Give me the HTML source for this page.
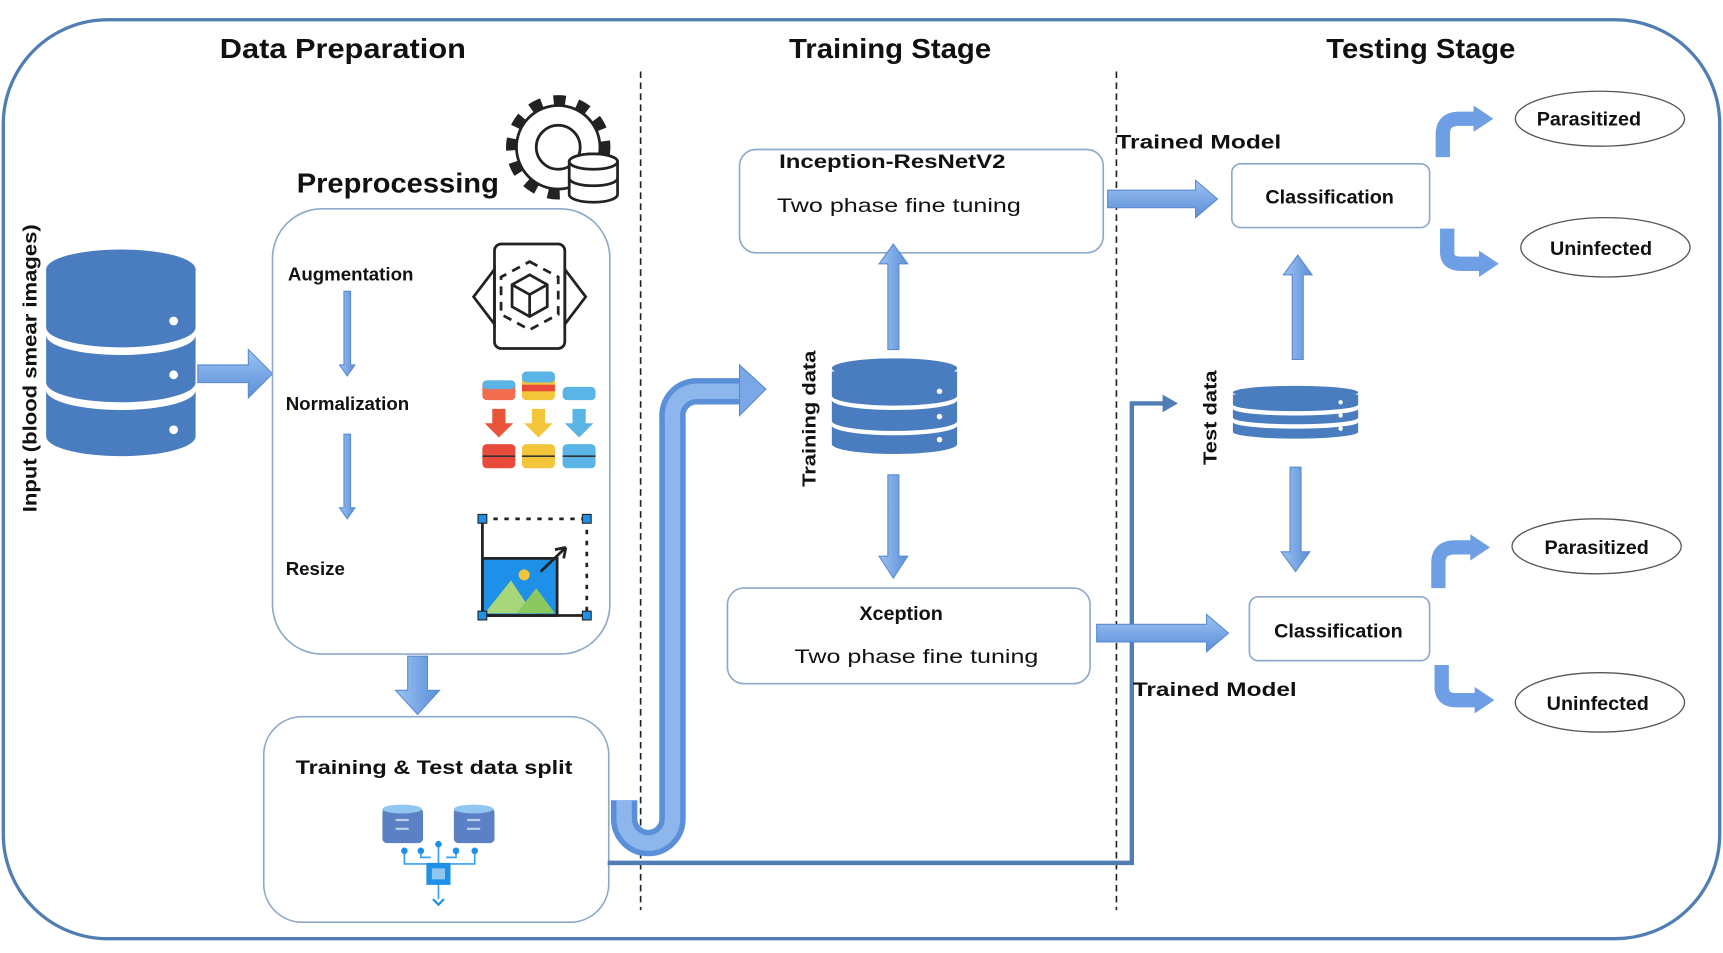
<!DOCTYPE html>
<html><head><meta charset="utf-8"><style>
html,body{margin:0;padding:0;background:#fff;}
svg{display:block;}
text{font-family:"Liberation Sans",sans-serif;fill:#111;}
.b{font-weight:bold;}
</style></head><body>
<svg width="1723" height="953" viewBox="0 0 1568 867" preserveAspectRatio="none" xmlns="http://www.w3.org/2000/svg">
<defs>
<linearGradient id="ah" x1="0" y1="0" x2="0" y2="1"><stop offset="0" stop-color="#9cc2f2"/><stop offset="1" stop-color="#5b8fd8"/></linearGradient>
<linearGradient id="av" x1="0" y1="0" x2="1" y2="0"><stop offset="0" stop-color="#9cc2f2"/><stop offset="1" stop-color="#5b8fd8"/></linearGradient>
</defs>
<rect x="3" y="18" width="1562" height="836" rx="95" fill="#fff" stroke="#4f7db4" stroke-width="3"/>
<text x="312" y="53" class="b" font-size="25" text-anchor="middle" textLength="224" lengthAdjust="spacingAndGlyphs">Data Preparation</text>
<text x="810" y="53" class="b" font-size="25" text-anchor="middle" textLength="184" lengthAdjust="spacingAndGlyphs">Training Stage</text>
<text x="1293" y="53" class="b" font-size="25" text-anchor="middle" textLength="172" lengthAdjust="spacingAndGlyphs">Testing Stage</text>
<line x1="583" y1="65" x2="583" y2="828" stroke="#222" stroke-width="1.5" stroke-dasharray="6,4"/>
<line x1="1016" y1="65" x2="1016" y2="828" stroke="#222" stroke-width="1.5" stroke-dasharray="6,4"/>

<!-- input DB -->
<g fill="#4a7cc0">
<ellipse cx="110" cy="245" rx="68" ry="18"/>
<path d="M42 245 V298 A68 18 0 0 0 178 298 V245 Z"/>
<path d="M42 305 V348 A68 18 0 0 0 178 348 V305 A68 18 0 0 1 42 305Z"/>
<path d="M42 355 V397 A68 18 0 0 0 178 397 V355 A68 18 0 0 1 42 355Z"/>
</g>
<g fill="#fff"><circle cx="158" cy="292" r="4"/><circle cx="158" cy="341" r="4"/><circle cx="158" cy="391" r="4"/></g>
<text transform="translate(33,335) rotate(-90)" class="b" font-size="18" text-anchor="middle" textLength="262" lengthAdjust="spacingAndGlyphs">Input (blood smear images)</text>
<polygon points="180,332 226,332 226,318 248,340 226,362 226,348 180,348" fill="url(#ah)" stroke="#5a8ad0"/>

<!-- preprocessing -->
<text x="270" y="175" class="b" font-size="25" textLength="184" lengthAdjust="spacingAndGlyphs">Preprocessing</text>
<g fill="none" stroke="#222">
<circle cx="508" cy="134" r="38" stroke-width="2.5"/>
<circle cx="508" cy="134" r="43" stroke-width="9" stroke-dasharray="11,11"/>
<circle cx="508" cy="134" r="20" stroke-width="2.5"/>
</g>
<g fill="none" stroke="#222" stroke-width="2.5">
<ellipse cx="540" cy="147" rx="22" ry="7" fill="#fff"/>
<path d="M518 147 V177 A22 7 0 0 0 562 177 V147" fill="#fff"/>
<ellipse cx="540" cy="147" rx="22" ry="7" fill="#fff"/>
<path d="M518 162 A22 7 0 0 0 562 162"/>
</g>
<rect x="248" y="190" width="307" height="405" rx="45" fill="none" stroke="#8fa9c9" stroke-width="1.5"/>
<text x="262" y="255" class="b" font-size="17">Augmentation</text>
<text x="260" y="373" class="b" font-size="17">Normalization</text>
<text x="260" y="523" class="b" font-size="17">Resize</text>
<polygon points="313,265 319,265 319,332 323,332 316,342 309,332 313,332" fill="url(#av)" stroke="#5a8ad0"/>
<polygon points="313,395 319,395 319,462 323,462 316,472 309,462 313,462" fill="url(#av)" stroke="#5a8ad0"/>
<!-- phone icon -->
<g fill="none" stroke="#222" stroke-width="2.5">
<rect x="450" y="222" width="64" height="95" rx="6"/>
<polygon points="450,245 431,270 450,295"/><polygon points="514,245 533,270 514,295"/>
<path d="M482 250 L498 259 L498 279 L482 288 L466 279 L466 259 Z M466 259 L482 268 L498 259 M482 268 V288"/>
<path d="M482 238 L508 252 L508 286 L482 300 L456 286 L456 252 Z" stroke-dasharray="8,6"/>
</g>
<!-- normalization icon -->
<g>
<rect x="439" y="346" width="30" height="18" rx="4" fill="#f26d50"/><rect x="439" y="346" width="30" height="8" rx="4" fill="#5ab5e6"/>
<rect x="475" y="338" width="30" height="26" rx="4" fill="#f3c53a"/><rect x="475" y="338" width="30" height="10" rx="4" fill="#5ab5e6"/><rect x="475" y="350" width="30" height="6" fill="#e84b3c"/>
<rect x="512" y="352" width="30" height="12" rx="4" fill="#5ab5e6"/>
<polygon points="448,372 460,372 460,385 467,385 454,398 441,385 448,385" fill="#e8553a"/>
<polygon points="484,372 496,372 496,385 503,385 490,398 477,385 484,385" fill="#f3c53a"/>
<polygon points="521,372 533,372 533,385 540,385 527,398 514,385 521,385" fill="#5ab5e6"/>
<rect x="439" y="404" width="30" height="22" rx="4" fill="#e84b3c"/><rect x="475" y="404" width="30" height="22" rx="4" fill="#f3c53a"/><rect x="512" y="404" width="30" height="22" rx="4" fill="#5ab5e6"/>
<g stroke="#333" stroke-width="1.5"><line x1="439" y1="415" x2="469" y2="415"/><line x1="475" y1="415" x2="505" y2="415"/><line x1="512" y1="415" x2="542" y2="415"/></g>
</g>
<!-- resize icon -->
<g>
<line x1="439" y1="472" x2="534" y2="472" stroke="#222" stroke-width="2.5" stroke-dasharray="4,6"/>
<line x1="534" y1="472" x2="534" y2="560" stroke="#222" stroke-width="2.5" stroke-dasharray="4,6"/>
<rect x="439" y="508" width="68" height="52" fill="#1e90e8" stroke="#222" stroke-width="2.5"/>
<polygon points="441,558 465,528 485,558" fill="#a8d67a"/><polygon points="470,558 488,535 505,558" fill="#8cc860"/>
<circle cx="477" cy="523" r="5" fill="#f3c53a"/>
<path d="M492 520 L515 498 M515 498 L505 500 M515 498 L513 508" stroke="#222" stroke-width="2.5" fill="none"/>
<line x1="439" y1="472" x2="439" y2="560" stroke="#222" stroke-width="2.5"/>
<line x1="439" y1="560" x2="534" y2="560" stroke="#222" stroke-width="2.5"/>
<g fill="#1e90e8" stroke="#222"><rect x="435" y="468" width="8" height="8"/><rect x="530" y="468" width="8" height="8"/><rect x="435" y="556" width="8" height="8"/><rect x="530" y="556" width="8" height="8"/></g>
</g>
<polygon points="371,597 389,597 389,628 400,628 380,650 360,628 371,628" fill="url(#av)" stroke="#5a8ad0"/>

<!-- split box -->
<rect x="240" y="652" width="314" height="187" rx="35" fill="#fff" stroke="#8fa9c9" stroke-width="1.5"/>
<text x="395" y="704" class="b" font-size="18" text-anchor="middle" textLength="252" lengthAdjust="spacingAndGlyphs">Training &amp; Test data split</text>
<g>
<rect x="348" y="735" width="37" height="32" rx="4" fill="#5c80c4"/><ellipse cx="366" cy="736" rx="18" ry="4" fill="#8fc7f0"/>
<rect x="413" y="735" width="37" height="32" rx="4" fill="#5c80c4"/><ellipse cx="431" cy="736" rx="18" ry="4" fill="#8fc7f0"/>
<g stroke="#bcd0ee" stroke-width="2"><line x1="360" y1="746" x2="372" y2="746"/><line x1="360" y1="754" x2="372" y2="754"/><line x1="425" y1="746" x2="437" y2="746"/><line x1="425" y1="754" x2="437" y2="754"/></g>
<g stroke="#3aa0ee" stroke-width="1.5" fill="none"><path d="M368 774 V786 H390 M383 774 V780 H392 M415 774 V780 H406 M432 774 V786 H408 M399 768 V786 M399 804 V818"/></g>
<g fill="#1e90e8"><circle cx="368" cy="774" r="3"/><circle cx="383" cy="774" r="3"/><circle cx="415" cy="774" r="3"/><circle cx="432" cy="774" r="3"/><circle cx="399" cy="768" r="3"/></g>
<rect x="388" y="785" width="22" height="20" fill="#1e90e8"/><rect x="393" y="790" width="12" height="10" fill="#8fc7f0"/>
<path d="M394 818 L399 823 L404 818" stroke="#1e90e8" stroke-width="2" fill="none"/>
</g>

<!-- J pipe -->
<path d="M568 728 L568 745 A22 22 0 0 0 612 745 L612 380 A22 22 0 0 1 634 356 L675 356" fill="none" stroke="#5b8fd8" stroke-width="24"/>
<path d="M568 728 L568 745 A22 22 0 0 0 612 745 L612 380 A22 22 0 0 1 634 356 L675 356" fill="none" stroke="#8cb6ec" stroke-width="14"/>
<polygon points="673,332 697,354 673,378" fill="#7aa7e6" stroke="#5a8ad0"/>
<!-- test line -->
<polyline points="553,785 1030,785 1030,367 1060,367" fill="none" stroke="#4f7db4" stroke-width="4"/>
<polygon points="1058,359 1072,367 1058,375" fill="#4f7db4"/>

<!-- inception -->
<rect x="673" y="136" width="331" height="94" rx="15" fill="#fff" stroke="#8fa9c9" stroke-width="1.5"/>
<text x="709" y="153" class="b" font-size="18" textLength="206" lengthAdjust="spacingAndGlyphs">Inception-ResNetV2</text>
<text x="707" y="193" font-size="18" textLength="222" lengthAdjust="spacingAndGlyphs">Two phase fine tuning</text>
<!-- xception -->
<rect x="662" y="535" width="330" height="87" rx="15" fill="#fff" stroke="#8fa9c9" stroke-width="1.5"/>
<text x="820" y="564" class="b" font-size="18" text-anchor="middle">Xception</text>
<text x="834" y="603" font-size="18" text-anchor="middle" textLength="222" lengthAdjust="spacingAndGlyphs">Two phase fine tuning</text>

<!-- training DB -->
<g fill="#4a7cc0">
<ellipse cx="814" cy="335" rx="57" ry="9"/>
<path d="M757 338 V360 A57 9 0 0 0 871 360 V338 Z"/>
<path d="M757 364 V383 A57 9 0 0 0 871 383 V364 A57 9 0 0 1 757 364Z"/>
<path d="M757 387 V404 A57 9 0 0 0 871 404 V387 A57 9 0 0 1 757 387Z"/>
</g>
<g fill="#fff"><circle cx="855" cy="356" r="2.5"/><circle cx="855" cy="379" r="2.5"/><circle cx="855" cy="400" r="2.5"/></g>
<text transform="translate(742,381) rotate(-90)" class="b" font-size="17" text-anchor="middle" textLength="124" lengthAdjust="spacingAndGlyphs">Training data</text>
<polygon points="808,318 818,318 818,240 826,240 813,222 800,240 808,240" fill="url(#av)" stroke="#5a8ad0"/>
<polygon points="808,432 818,432 818,506 826,506 813,526 800,506 808,506" fill="url(#av)" stroke="#5a8ad0"/>
<polygon points="1008,173 1088,173 1088,164 1108,181 1088,198 1088,189 1008,189" fill="url(#ah)" stroke="#5a8ad0"/>
<polygon points="998,568 1098,568 1098,559 1118,576 1098,593 1098,584 998,584" fill="url(#ah)" stroke="#5a8ad0"/>
<text x="1016" y="135" class="b" font-size="18" textLength="150" lengthAdjust="spacingAndGlyphs">Trained Model</text>
<text x="1031" y="633" class="b" font-size="18" textLength="149" lengthAdjust="spacingAndGlyphs">Trained Model</text>

<!-- classification -->
<rect x="1121" y="149" width="180" height="58" rx="8" fill="#fff" stroke="#8fa9c9" stroke-width="1.5"/>
<text x="1210" y="185" class="b" font-size="18" text-anchor="middle">Classification</text>
<rect x="1137" y="543" width="164" height="58" rx="8" fill="#fff" stroke="#8fa9c9" stroke-width="1.5"/>
<text x="1218" y="580" class="b" font-size="18" text-anchor="middle">Classification</text>

<!-- test DB -->
<g fill="#4a7cc0">
<ellipse cx="1179" cy="357" rx="57" ry="6"/>
<path d="M1122 359 V368 A57 6 0 0 0 1236 368 V359 Z"/>
<path d="M1122 372 V380 A57 6 0 0 0 1236 380 V372 A57 6 0 0 1 1122 372Z"/>
<path d="M1122 384 V393 A57 6 0 0 0 1236 393 V384 A57 6 0 0 1 1122 384Z"/>
</g>
<g fill="#fff"><circle cx="1220" cy="366" r="2"/><circle cx="1220" cy="378" r="2"/><circle cx="1220" cy="390" r="2"/></g>
<text transform="translate(1107,380) rotate(-90)" class="b" font-size="17" text-anchor="middle" textLength="86" lengthAdjust="spacingAndGlyphs">Test data</text>
<polygon points="1176,327 1186,327 1186,250 1194,250 1181,232 1168,250 1176,250" fill="url(#av)" stroke="#5a8ad0"/>
<polygon points="1174,425 1184,425 1184,502 1192,502 1179,520 1166,502 1174,502" fill="url(#av)" stroke="#5a8ad0"/>

<!-- bent arrows -->
<g fill="none" stroke="#6e9fe4" stroke-width="13">
<path d="M1313 143 V122 Q1313 108 1328 108 H1343"/>
<path d="M1317 208 V230 Q1317 240 1330 240 H1348"/>
<path d="M1309 535 V512 Q1309 498 1324 498 H1340"/>
<path d="M1312 605 V625 Q1312 637 1325 637 H1344"/>
</g>
<g fill="#6e9fe4"><polygon points="1341,96 1359,108 1341,120"/><polygon points="1346,228 1364,240 1346,252"/><polygon points="1338,486 1356,498 1338,510"/><polygon points="1342,625 1360,637 1342,649"/></g>

<g fill="#fff" stroke="#555" stroke-width="1.2">
<ellipse cx="1456" cy="108" rx="77" ry="25"/><ellipse cx="1461" cy="225" rx="77" ry="27"/>
<ellipse cx="1453" cy="497" rx="77" ry="25"/><ellipse cx="1456" cy="639" rx="77" ry="27"/>
</g>
<g class="b" font-size="18" text-anchor="middle">
<text x="1446" y="114" class="b">Parasitized</text><text x="1457" y="232" class="b">Uninfected</text>
<text x="1453" y="504" class="b">Parasitized</text><text x="1454" y="646" class="b">Uninfected</text>
</g>
</svg>
</body></html>
